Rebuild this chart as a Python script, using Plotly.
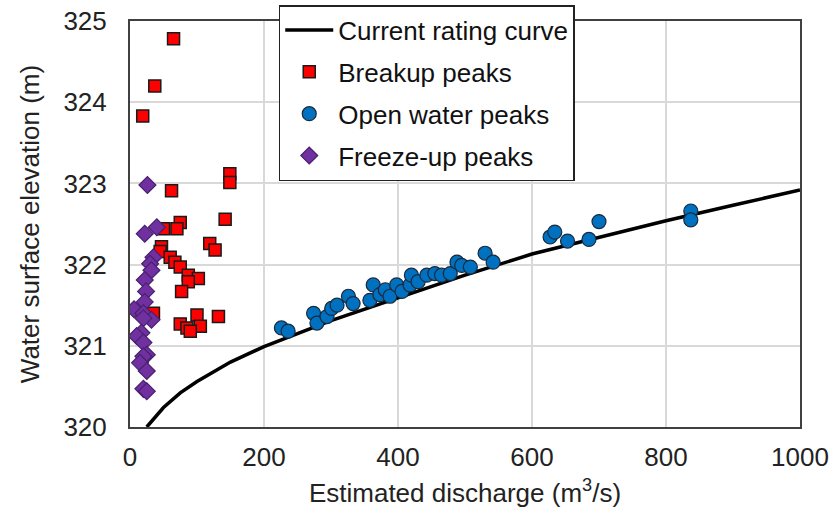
import plotly.graph_objects as go

# Rating curve
rating_q = [25, 50, 75, 100, 150, 200, 300, 400, 500, 600, 700, 800, 900, 1000]
rating_h = [320.00, 320.24, 320.42, 320.56, 320.80, 320.99, 321.31, 321.59, 321.87, 322.13, 322.34, 322.54, 322.73, 322.92]

# Breakup peaks
breakup_q = [65, 37, 19, 149, 149, 62, 75, 142, 70, 50, 119, 127, 47, 45, 60, 67, 75, 87, 102, 87, 77, 35, 100, 132, 75, 85, 105, 90]
breakup_h = [324.78, 324.20, 323.83, 323.12, 323.01, 322.91, 322.52, 322.56, 322.44, 322.44, 322.26, 322.18, 322.22, 322.16, 322.09, 322.03, 321.97, 321.87, 321.83, 321.79, 321.67, 321.40, 321.38, 321.36, 321.27, 321.22, 321.24, 321.18]

# Open water peaks
open_q = [226, 236, 274, 279, 294, 301, 309, 326, 333, 358, 363, 373, 381, 388, 398, 406, 418, 420, 430, 443, 455, 465, 478, 488, 495, 508, 530, 542, 627, 634, 653, 685, 700, 837, 837]
open_h = [321.22, 321.18, 321.40, 321.28, 321.36, 321.46, 321.50, 321.61, 321.52, 321.56, 321.75, 321.63, 321.69, 321.61, 321.75, 321.67, 321.75, 321.87, 321.79, 321.87, 321.89, 321.87, 321.89, 322.03, 321.99, 321.97, 322.14, 322.03, 322.34, 322.40, 322.29, 322.31, 322.53, 322.66, 322.55]

# Freeze-up peaks
freeze_q = [26, 40, 22, 35, 30, 32, 22, 24, 22, 6, 20, 32, 20, 17, 10, 20, 25, 20, 15, 25, 20, 25]
freeze_h = [322.98, 322.46, 322.38, 322.09, 322.01, 321.93, 321.81, 321.67, 321.54, 321.45, 321.40, 321.32, 321.34, 321.16, 321.12, 321.04, 320.89, 320.87, 320.79, 320.69, 320.47, 320.44]

x_ticks = [0, 200, 400, 600, 800, 1000]
y_ticks = [320, 321, 322, 323, 324, 325]

FONT = "Liberation Sans, Arial, sans-serif"
FS = 26

fig = go.Figure()
fig.add_trace(go.Scatter(x=rating_q, y=rating_h, mode="lines", name="Current rating curve",
                         line=dict(color="black", width=3.5), legendgroup="a"))
fig.add_trace(go.Scatter(x=breakup_q, y=breakup_h, mode="markers", name="Breakup peaks",
                         marker=dict(symbol="square", size=12, color="#FF0000",
                                     line=dict(color="#1a1a1a", width=1.5)), legendgroup="b"))
fig.add_trace(go.Scatter(x=open_q, y=open_h, mode="markers", name="Open water peaks",
                         marker=dict(symbol="circle", size=14, color="#0070C0",
                                     line=dict(color="#1a2a3a", width=1.2)), legendgroup="c"))
fig.add_trace(go.Scatter(x=freeze_q, y=freeze_h, mode="markers", name="Freeze-up peaks",
                         marker=dict(symbol="diamond", size=13, color="#7030A0",
                                     line=dict(color="#4a2070", width=1.2)), legendgroup="d"))

fig.update_layout(
    width=836, height=515,
    margin=dict(l=130, r=36, t=21, b=88, autoexpand=False),
    paper_bgcolor="white", plot_bgcolor="white",
    font=dict(family=FONT, size=FS, color="#222222"),
    showlegend=True,
    legend=dict(x=0.222, y=1.039, xanchor="left", yanchor="top",
                bgcolor="white", bordercolor="#222222", borderwidth=1.5,
                font=dict(size=FS, color="#111111"), tracegroupgap=5,
                itemwidth=48),
)
fig.update_xaxes(range=[0, 1000], tickvals=x_ticks, showgrid=True, gridcolor="#d9d9d9", gridwidth=1.5,
                 showline=True, linecolor="#404040", linewidth=2, mirror=True, zeroline=False,
                 ticks="", tickfont=dict(size=FS), ticklabelstandoff=6, automargin=False,
                 title=dict(text="Estimated discharge (m<sup>3</sup>/s)", font=dict(size=FS), standoff=13))
fig.update_yaxes(range=[320, 325], tickvals=y_ticks, showgrid=True, gridcolor="#d9d9d9", gridwidth=1.5,
                 showline=True, linecolor="#404040", linewidth=2, mirror=True, zeroline=False,
                 ticks="", tickfont=dict(size=FS), ticklabelstandoff=16, automargin=False,
                 title=dict(text="Water surface elevation (m)", font=dict(size=FS), standoff=16))

fig.write_html("out.html")
